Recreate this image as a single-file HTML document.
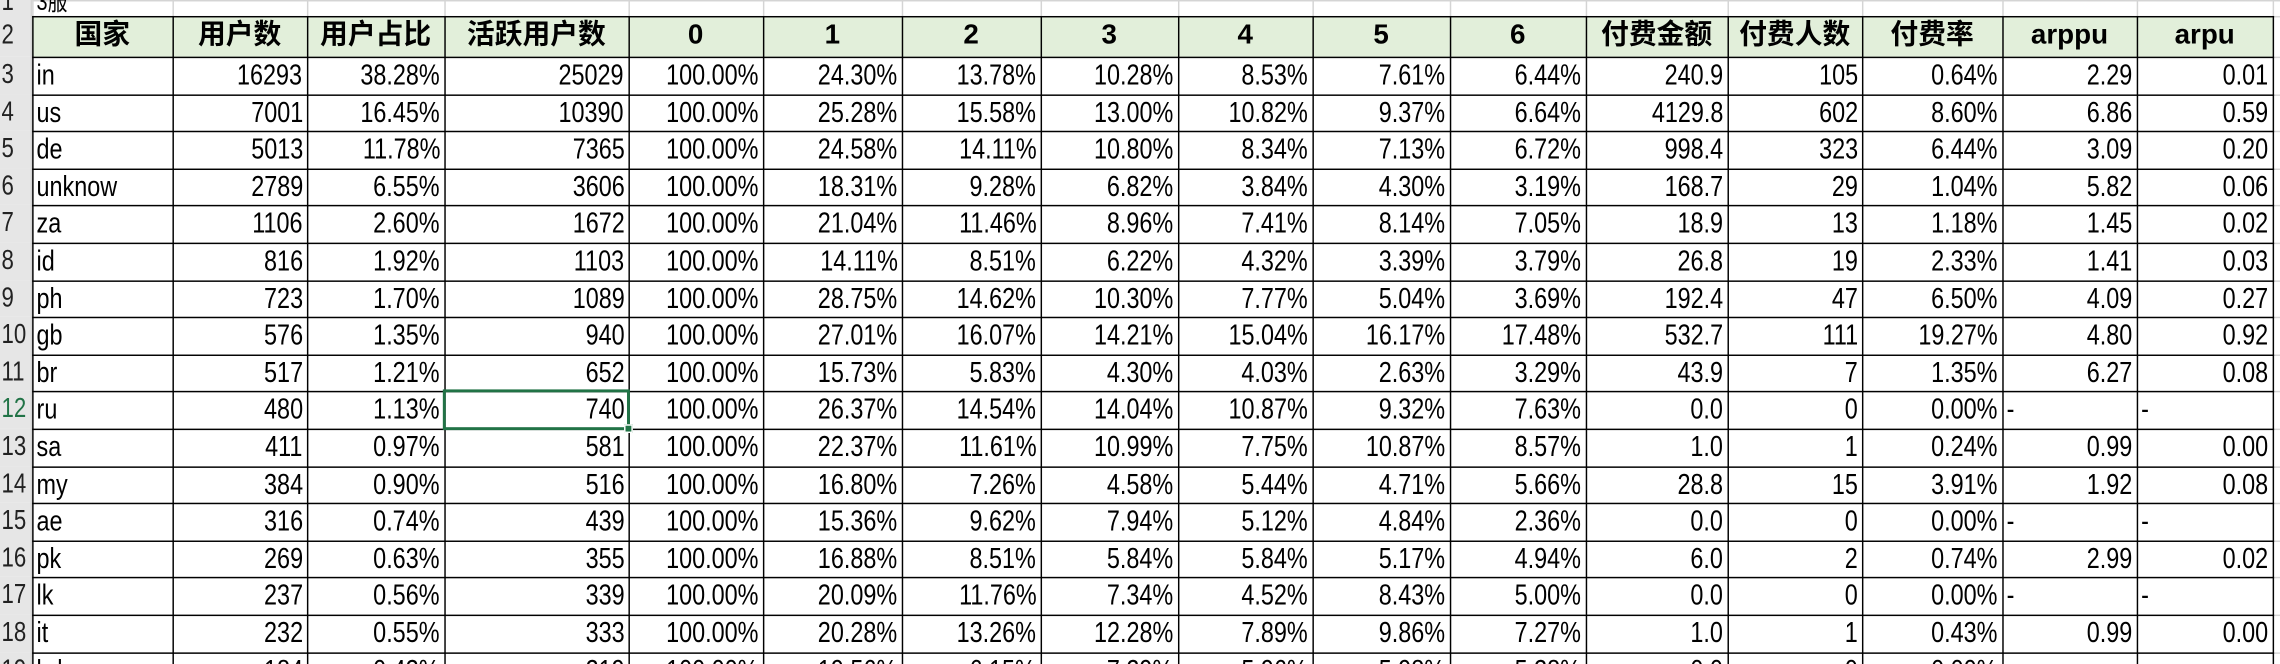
<!DOCTYPE html>
<html><head><meta charset="utf-8">
<style>
html,body{margin:0;padding:0;background:#fff;overflow:hidden}
#wrap{position:absolute;left:0;top:0;width:1560px;height:457px;transform-origin:0 0;transform:scale(1.4615,1.453);overflow:hidden}
.c{position:absolute;box-sizing:border-box;white-space:nowrap;overflow:hidden;font-family:"Liberation Sans","Noto Sans CJK SC",sans-serif;font-size:20px;color:#000;line-height:25px;padding:0 3px}
.c span{display:inline-block;transform:scaleX(0.8)}
.c.r span{transform-origin:100% 50%}
.c.l span{transform-origin:0 50%}
.hdr{font-family:"Liberation Sans","Noto Sans CJK SC",sans-serif;font-weight:bold;text-align:center;background:#e2efda;font-size:19px;line-height:28px}
.hdr span{transform:none}
.rh{background:#e6e6e6;color:#222;text-align:left;padding-left:1px;font-family:"Liberation Sans",sans-serif;font-size:19px}
.gl{position:absolute;background:#d4d4d4}
.bl{position:absolute;background:#000}
</style></head><body>
<div id="wrap"></div>
<script>
const colWidths=[96,92,94,126,92,95,95,94,92,94,93,97,92,96,92,93];
const headers=["国家","用户数","用户占比","活跃用户数","0","1","2","3","4","5","6","付费金额","付费人数","付费率","arppu","arpu"];
const rows=[
["in","16293","38.28%","25029","100.00%","24.30%","13.78%","10.28%","8.53%","7.61%","6.44%","240.9","105","0.64%","2.29","0.01"],
["us","7001","16.45%","10390","100.00%","25.28%","15.58%","13.00%","10.82%","9.37%","6.64%","4129.8","602","8.60%","6.86","0.59"],
["de","5013","11.78%","7365","100.00%","24.58%","14.11%","10.80%","8.34%","7.13%","6.72%","998.4","323","6.44%","3.09","0.20"],
["unknow","2789","6.55%","3606","100.00%","18.31%","9.28%","6.82%","3.84%","4.30%","3.19%","168.7","29","1.04%","5.82","0.06"],
["za","1106","2.60%","1672","100.00%","21.04%","11.46%","8.96%","7.41%","8.14%","7.05%","18.9","13","1.18%","1.45","0.02"],
["id","816","1.92%","1103","100.00%","14.11%","8.51%","6.22%","4.32%","3.39%","3.79%","26.8","19","2.33%","1.41","0.03"],
["ph","723","1.70%","1089","100.00%","28.75%","14.62%","10.30%","7.77%","5.04%","3.69%","192.4","47","6.50%","4.09","0.27"],
["gb","576","1.35%","940","100.00%","27.01%","16.07%","14.21%","15.04%","16.17%","17.48%","532.7","111","19.27%","4.80","0.92"],
["br","517","1.21%","652","100.00%","15.73%","5.83%","4.30%","4.03%","2.63%","3.29%","43.9","7","1.35%","6.27","0.08"],
["ru","480","1.13%","740","100.00%","26.37%","14.54%","14.04%","10.87%","9.32%","7.63%","0.0","0","0.00%","-","-"],
["sa","411","0.97%","581","100.00%","22.37%","11.61%","10.99%","7.75%","10.87%","8.57%","1.0","1","0.24%","0.99","0.00"],
["my","384","0.90%","516","100.00%","16.80%","7.26%","4.58%","5.44%","4.71%","5.66%","28.8","15","3.91%","1.92","0.08"],
["ae","316","0.74%","439","100.00%","15.36%","9.62%","7.94%","5.12%","4.84%","2.36%","0.0","0","0.00%","-","-"],
["pk","269","0.63%","355","100.00%","16.88%","8.51%","5.84%","5.84%","5.17%","4.94%","6.0","2","0.74%","2.99","0.02"],
["lk","237","0.56%","339","100.00%","20.09%","11.76%","7.34%","4.52%","8.43%","5.00%","0.0","0","0.00%","-","-"],
["it","232","0.55%","333","100.00%","20.28%","13.26%","12.28%","7.89%","9.86%","7.27%","1.0","1","0.43%","0.99","0.00"],
["bd","184","0.43%","219","100.00%","19.56%","6.15%","7.29%","5.96%","5.98%","5.38%","0.0","0","0.00%","-","-"]
];
const W=document.getElementById('wrap');
const RH=22, H1=11, H2=28, RD=25.6;
const xs=[RH];colWidths.forEach(w=>xs.push(xs[xs.length-1]+w));
const tableRight=xs[xs.length-1];
function rowTop(i){ if(i===0) return 0; if(i===1) return H1; return H1+H2+(i-2)*RD;}
function cell(x,y,w,h,txt,cls,align,name){
  const d=document.createElement('div');d.className='c '+(cls||'')+(align==='right'?' r':' l');
  d.style.left=x+'px';d.style.top=y+'px';d.style.width=w+'px';d.style.height=h+'px';
  if(align) d.style.textAlign=align;
  const s=document.createElement('span');s.textContent=txt;d.appendChild(s);
  
  
  W.appendChild(d);return d;}
function line(cls,x,y,w,h){const d=document.createElement('div');d.className=cls;d.style.left=x+'px';d.style.top=y+'px';d.style.width=w+'px';d.style.height=h+'px';W.appendChild(d);}
const totalRows=2+rows.length;
for(let i=0;i<=totalRows;i++){const y=Math.round(rowTop(i));line('gl',RH,y,1560,1);}
for(let x=tableRight+92;x<1560;x+=92) line('gl',x,0,1,457);
xs.forEach(x=>line('gl',x,0,1,H1));
for(let i=0;i<totalRows;i++){
  const y=rowTop(i),h=(i===0?H1:i===1?H2:RD);
  const d=cell(0,y,RH,h,String(i+1),'rh','left','row-header-'+(i+1));
  
  d.style.lineHeight=h+'px';
  if(i===0){d.style.lineHeight='16px';d.style.top='-6px';d.style.height='17px';}
  if(i===11){d.style.color='#217346';}
}
line('gl',RH-1,0,1,457);
const t=cell(xs[0],-7,90,18,'3服','', 'left','sheet-title');
t.style.lineHeight='18px';t.style.fontSize='17px';
headers.forEach((h,j)=>cell(xs[j],H1,colWidths[j],H2,h,'hdr','center','header-'+h));
rows.forEach((r,i)=>{
  r.forEach((v,j)=>{
    const al=(j===0||v==='-')?'left':'right';
    const d=cell(xs[j],rowTop(i+2),colWidths[j],RD,v,'',al,'cell-'+r[0]+'-'+j);
    d.style.lineHeight=(RD+1)+'px';
  });
});
const bottom=457;
for(let i=1;i<=totalRows;i++){line('bl',RH,Math.round(rowTop(i)),tableRight-RH+1,1);}
xs.forEach(x=>line('bl',x,H1,1,bottom-H1));
const sel=document.createElement('div');


sel.style.cssText='position:absolute;box-sizing:border-box;border:2px solid #217346;left:'+(xs[3]-1)+'px;top:'+(rowTop(11)-1)+'px;width:'+(colWidths[3]+2)+'px;height:'+(RD+2)+'px';
W.appendChild(sel);
const hnd=document.createElement('div');


hnd.style.cssText='position:absolute;background:#217346;border:1px solid #fff;width:4px;height:4px;left:'+(xs[4]-3)+'px;top:'+(rowTop(12)-3)+'px';
W.appendChild(hnd);
</script>
</body></html>
